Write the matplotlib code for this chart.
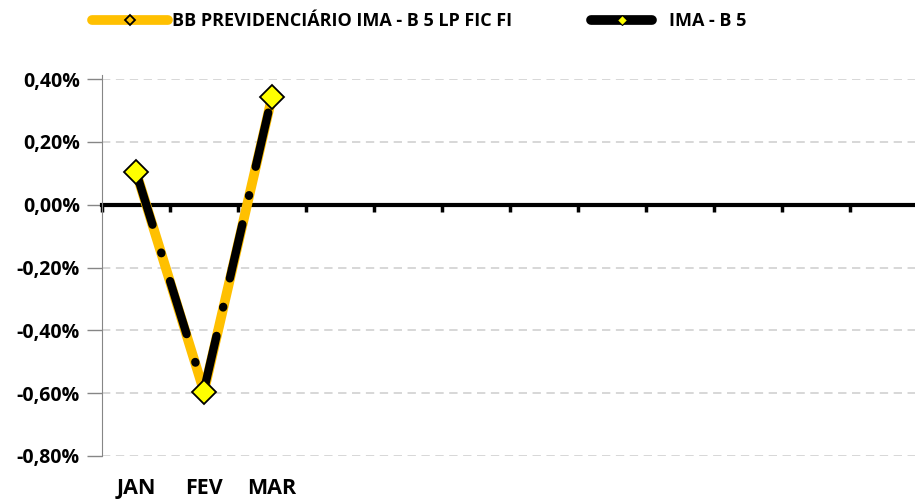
import matplotlib.pyplot as plt
import numpy as np
from matplotlib.lines import Line2D

plt.rcParams['font.family'] = ['Open Sans', 'DejaVu Sans']
plt.rcParams['lines.scale_dashes'] = False

# categories (only first three months reported)
months = ['JAN', 'FEV', 'MAR', '', '', '', '', '', '', '', '', '']
fund_name = 'BB PREVIDENCIÁRIO IMA - B 5 LP FIC FI'
bench_name = 'IMA - B 5'
fund_vals = [0.105, -0.595, 0.343]
bench_vals = [0.105, -0.59, 0.345]
yticks = [-0.8, -0.6, -0.4, -0.2, 0.0, 0.2, 0.4]

gold = '#FFC000'
yellow = '#FFFF00'

fig = plt.figure(figsize=(9.15, 5), dpi=100)
ax = fig.add_axes([102 / 915, 0.088, 816 / 915, 0.754])

x = np.arange(len(months))
xf = x[:len(fund_vals)]

# gridlines
for v in yticks:
    if v != 0:
        ax.axhline(v, color='#D4D4D4', lw=1.3, ls=(0, (6, 4)), zorder=0)

ax.plot(xf, fund_vals, color=gold, lw=7, solid_capstyle='round', zorder=3)
# benchmark drawn segment by segment so the dash pattern restarts (as in Excel)
for i in range(len(bench_vals) - 1):
    ax.plot(xf[i:i + 2], bench_vals[i:i + 2], color='black', lw=6,
            dashes=[40, 21, 0.5, 21], dash_capstyle='round', zorder=4)
# markers on top
ax.plot(xf, fund_vals, ls='none', marker='D', ms=12.5, mfc=yellow,
        mec='black', mew=1.3, zorder=5)

ax.set_xlim(-0.5, len(months) - 0.5)
ax.set_ylim(-0.8, 0.4)

ax.spines['top'].set_visible(False)
ax.spines['right'].set_visible(False)
ax.spines['left'].set_color('#868686')
ax.spines['left'].set_bounds(-0.8, 0.412)
ax.spines['bottom'].set_position(('data', 0))
ax.spines['bottom'].set_linewidth(3)
ax.spines['bottom'].set_color('black')
ax.spines['bottom'].set_zorder(2)

ax.set_yticks(yticks)
ax.set_yticklabels([f'{v:.2f}%'.replace('.', ',') for v in yticks],
                   fontsize=14, fontweight='bold')
ax.tick_params(axis='y', length=11, width=1, color='#868686', pad=5)

ax.set_xticks(np.arange(len(months) + 1) - 0.5)
ax.set_xticklabels([])
ax.tick_params(axis='x', length=5, width=2.5, color='black', direction='out')

for i, m in enumerate(months):
    ax.text(i, -0.905, m, transform=ax.transData, ha='center', va='center',
            fontsize=15.5, fontweight='bold', clip_on=False)

h1 = Line2D([], [], color=gold, lw=7, solid_capstyle='round', marker='D',
            ms=5.5, mfc=gold, mec='black', mew=1.3)
h2 = Line2D([], [], color='black', lw=7, solid_capstyle='round', marker='D',
            ms=5, mfc=yellow, mec='black', mew=0.8)
leg1 = fig.legend([h1], [fund_name], loc='center left',
                  bbox_to_anchor=(92 / 915, 1 - 21 / 500), frameon=False,
                  prop={'weight': 'bold', 'size': 13}, handlelength=4.2,
                  handletextpad=0.25, borderpad=0, borderaxespad=0)
leg2 = fig.legend([h2], [bench_name], loc='center left',
                  bbox_to_anchor=(591 / 915, 1 - 21 / 500), frameon=False,
                  prop={'weight': 'bold', 'size': 13}, handlelength=3.4,
                  handletextpad=0.9, borderpad=0, borderaxespad=0)

fig.savefig('out.png', dpi=100)
